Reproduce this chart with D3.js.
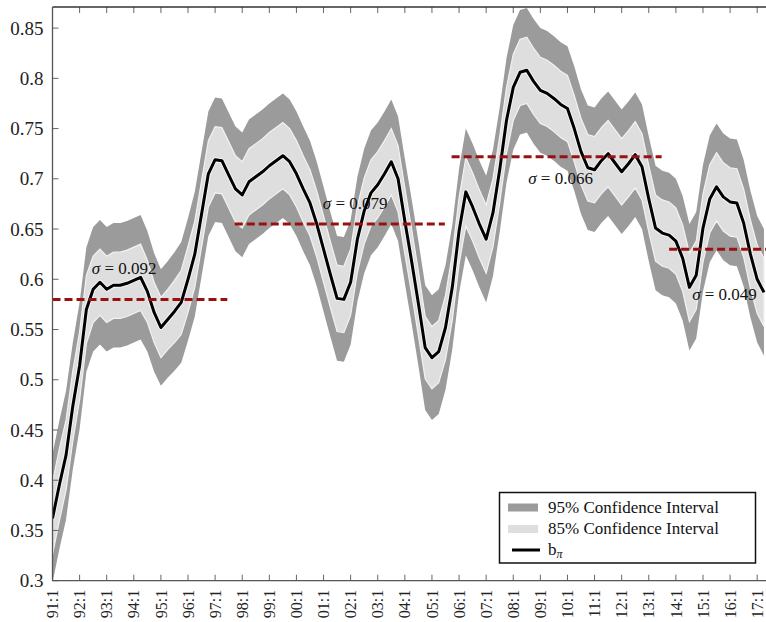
<!DOCTYPE html>
<html><head><meta charset="utf-8">
<script src="https://cdn.jsdelivr.net/npm/d3@7"></script>
<style>
html,body{margin:0;padding:0;background:#fff;}
svg{display:block;}
svg text{font-family:"Liberation Serif","Times New Roman",serif !important;}
</style></head>
<body><svg id="chart" width="766" height="622"></svg>
<script>
// ---- data ----
const yearLabels = ["91:1","92:1","93:1","94:1","95:1","96:1","97:1","98:1","99:1","00:1","01:1","02:1","03:1","04:1","05:1","06:1","07:1","08:1","09:1","10:1","11:1","12:1","13:1","14:1","15:1","16:1","17:1"];
const bpi = [0.362,0.395,0.425,0.474,0.514,0.570,0.590,0.597,0.590,0.594,0.594,0.596,0.599,0.602,0.588,0.567,
0.552,0.560,0.568,0.577,0.600,0.625,0.665,0.705,0.719,0.718,0.704,0.690,0.684,0.697,0.702,0.707,
0.713,0.718,0.723,0.717,0.705,0.690,0.676,0.655,0.630,0.605,0.581,0.580,0.597,0.640,0.668,0.686,
0.694,0.705,0.717,0.700,0.658,0.618,0.576,0.532,0.522,0.528,0.552,0.592,0.648,0.687,0.672,0.655,
0.640,0.666,0.709,0.758,0.791,0.806,0.808,0.797,0.788,0.785,0.780,0.774,0.770,0.750,0.727,0.711,
0.709,0.718,0.725,0.716,0.707,0.715,0.724,0.712,0.680,0.651,0.646,0.644,0.638,0.621,0.592,0.604,
0.651,0.680,0.692,0.682,0.677,0.676,0.656,0.625,0.600,0.587];
const ci95 = [0.064,0.064,0.064,0.063,0.063,0.062,0.062,0.062,0.062,0.062,0.062,0.062,0.062,0.062,0.060,0.059,
0.058,0.058,0.059,0.060,0.061,0.062,0.062,0.062,0.062,0.062,0.062,0.062,0.062,0.062,0.062,0.062,
0.062,0.062,0.062,0.062,0.062,0.062,0.062,0.062,0.062,0.062,0.062,0.062,0.062,0.062,0.062,0.062,
0.062,0.062,0.062,0.062,0.062,0.062,0.062,0.062,0.062,0.062,0.062,0.062,0.062,0.063,0.063,0.063,
0.063,0.063,0.062,0.062,0.062,0.062,0.062,0.062,0.062,0.062,0.062,0.062,0.062,0.062,0.062,0.062,
0.062,0.062,0.062,0.062,0.062,0.062,0.062,0.062,0.062,0.062,0.062,0.062,0.062,0.062,0.063,0.063,
0.063,0.063,0.063,0.063,0.063,0.063,0.063,0.063,0.063,0.063];
const ci85 = [0.036,0.036,0.035,0.035,0.034,0.034,0.033,0.033,0.033,0.033,0.033,0.033,0.033,0.033,0.031,0.030,
0.030,0.030,0.031,0.032,0.033,0.033,0.033,0.033,0.033,0.033,0.033,0.033,0.033,0.033,0.033,0.033,
0.033,0.033,0.033,0.033,0.033,0.033,0.033,0.033,0.033,0.033,0.033,0.033,0.033,0.033,0.033,0.033,
0.033,0.033,0.033,0.033,0.033,0.032,0.032,0.031,0.031,0.031,0.032,0.033,0.033,0.034,0.034,0.034,
0.034,0.034,0.033,0.033,0.033,0.033,0.033,0.033,0.033,0.033,0.033,0.033,0.033,0.033,0.033,0.033,
0.033,0.033,0.033,0.033,0.033,0.033,0.033,0.033,0.033,0.033,0.033,0.033,0.033,0.033,0.034,0.034,
0.034,0.034,0.034,0.034,0.034,0.034,0.034,0.034,0.034,0.034];
const yTicks = [0.3,0.35,0.4,0.45,0.5,0.55,0.6,0.65,0.7,0.75,0.8,0.85];
const regimeStart = [0, 26.9, 58.9, 91.0];
const regimeEnd   = [25.8, 57.9, 89.9, 106];
const regimeMean  = [0.580, 0.655, 0.722, 0.630];
const sigmaText   = ["0.092","0.079","0.066","0.049"];
const sigmaX      = [5.8, 39.9, 70.2, 94.4];
const sigmaY      = [0.605, 0.670, 0.695, 0.579];
const legendLabels = ["95% Confidence Interval","85% Confidence Interval"];

// ---- layout ----
const svg = d3.select("#chart");
const pL = 52.5, pR = 766, pT = 7, pB = 580.7;
const x = d3.scaleLinear().domain([0, 105.3]).range([pL, pR]);
const y = d3.scaleLinear().domain([0.3, 0.871]).range([pB, pT]);
const data = bpi.map((v,i)=>({i, v, h95:ci95[i], h85:ci85[i]}));

svg.append("defs").append("clipPath").attr("id","plotclip")
  .append("rect").attr("x",pL).attr("y",pT).attr("width",pR-pL).attr("height",pB-pT);
const plot = svg.append("g").attr("clip-path","url(#plotclip)");

const area95 = d3.area().x(d=>x(d.i)).y0(d=>y(d.v-d.h95)).y1(d=>y(d.v+d.h95));
const area85 = d3.area().x(d=>x(d.i)).y0(d=>y(d.v-d.h85)).y1(d=>y(d.v+d.h85));
const line = d3.line().x(d=>x(d.i)).y(d=>y(d.v));

plot.append("path").datum(data).attr("d",area95).attr("fill","#9b9b9b");
plot.append("path").datum(data).attr("d",area85).attr("fill","#dedede").attr("stroke","#f2f2f2").attr("stroke-width",1.2);
plot.append("path").datum(data).attr("d",line).attr("fill","none").attr("stroke","#f4f4f4").attr("stroke-width",5).attr("stroke-linejoin","round");
plot.append("path").datum(data).attr("d",line).attr("fill","none").attr("stroke","#000").attr("stroke-width",3).attr("stroke-linejoin","round");

// regime means
regimeMean.forEach((m,k)=>{
  plot.append("line").attr("x1",x(regimeStart[k])).attr("x2",x(regimeEnd[k]))
    .attr("y1",y(m)).attr("y2",y(m))
    .attr("stroke","#9a1010").attr("stroke-width",3).attr("stroke-dasharray","8,4");
});
// sigma labels
sigmaText.forEach((s,k)=>{
  const t = svg.append("text").attr("x",x(sigmaX[k])).attr("y",y(sigmaY[k]))
    .attr("font-size",17).attr("fill","#111");
  t.append("tspan").attr("font-style","italic").text("σ");
  t.append("tspan").text(" = " + s);
});

// axes
const xTickIdx = yearLabels.map((_,k)=>k*4);
const xAxis = d3.axisBottom(x).tickValues(xTickIdx).tickFormat((d,k)=>yearLabels[k]).tickSize(0).tickPadding(0);
const gx = svg.append("g").attr("transform",`translate(0,${pB})`).call(xAxis);
gx.select(".domain").remove();
gx.selectAll(".tick text").attr("transform","rotate(-90)").attr("text-anchor","end")
  .attr("x",-9).attr("y",0).attr("dy","0.32em").attr("font-size",16).attr("fill","#222");
svg.append("g").selectAll("line").data(xTickIdx).join("line")
  .attr("x1",d=>x(d)).attr("x2",d=>x(d)).attr("y1",pB).attr("y2",pB-6).attr("stroke","#666").attr("stroke-width",1);
svg.append("g").selectAll("line").data(xTickIdx).join("line")
  .attr("x1",d=>x(d)).attr("x2",d=>x(d)).attr("y1",pT).attr("y2",pT+6).attr("stroke","#666").attr("stroke-width",1);

const yAxis = d3.axisLeft(y).tickValues(yTicks).tickFormat(d=>String(+d.toFixed(2))).tickSize(0).tickPadding(9);
const gy = svg.append("g").attr("transform",`translate(${pL},0)`).call(yAxis);
gy.select(".domain").remove();
gy.selectAll(".tick text").attr("font-size",19).attr("fill","#222");
svg.append("g").selectAll("line").data(yTicks).join("line")
  .attr("x1",pL).attr("x2",pL+6).attr("y1",d=>y(d)).attr("y2",d=>y(d)).attr("stroke","#666");

// spines
svg.append("line").attr("x1",pL).attr("x2",pR).attr("y1",pB).attr("y2",pB).attr("stroke","#555").attr("stroke-width",1.3);
svg.append("line").attr("x1",pL).attr("x2",pR).attr("y1",pT).attr("y2",pT).attr("stroke","#333").attr("stroke-width",1.3);
svg.append("line").attr("x1",pL).attr("x2",pL).attr("y1",pT).attr("y2",pB).attr("stroke","#555").attr("stroke-width",1.3);

// legend
const lg = svg.append("g");
lg.append("rect").attr("x",499.5).attr("y",492.5).attr("width",256).attr("height",70.5)
  .attr("fill","#fff").attr("stroke","#111").attr("stroke-width",1.5);
const swatchFill = ["#9b9b9b","#dedede"];
legendLabels.forEach((lab,k)=>{
  lg.append("rect").attr("x",508).attr("y",503.5+k*21.5).attr("width",30).attr("height",8).attr("fill",swatchFill[k]);
  lg.append("text").attr("x",548).attr("y",512.5+k*21.5).attr("font-size",17).attr("fill","#111").text(lab);
});
lg.append("line").attr("x1",512).attr("x2",540).attr("y1",550).attr("y2",550).attr("stroke","#000").attr("stroke-width",3);
const bt = lg.append("text").attr("x",548).attr("y",555).attr("font-size",17).attr("fill","#111");
bt.append("tspan").text("b");
bt.append("tspan").attr("font-size",12).attr("font-style","italic").attr("dy",3).text("π");
</script></body></html>
